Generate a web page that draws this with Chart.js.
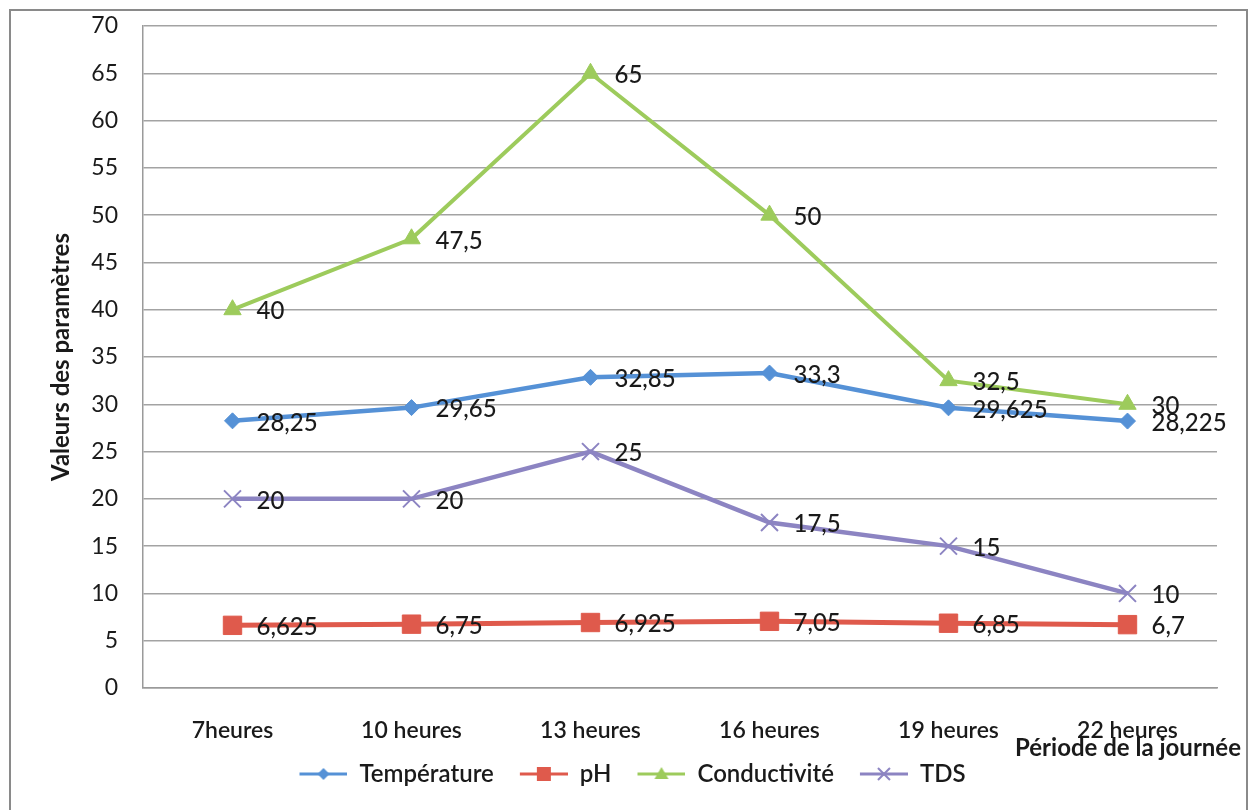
<!DOCTYPE html>
<html lang="fr">
<head>
<meta charset="utf-8">
<title>Valeurs des paramètres selon la période de la journée</title>
<script src="https://cdn.jsdelivr.net/npm/chart.js@4.4.1/dist/chart.umd.min.js"></script>
<style>
  html, body { margin: 0; padding: 0; background: #ffffff; }
  canvas { display: block; }
</style>
</head>
<body>
<canvas id="chart" width="1252" height="810"></canvas>
<script>
// Periods of the day (x categories)
const hours = ['7heures', '10 heures', '13 heures', '16 heures', '19 heures', '22 heures'];

// Measured parameters per period
const temperature = [28.25, 29.65, 32.85, 33.3, 29.625, 28.225];
const ph = [6.625, 6.75, 6.925, 7.05, 6.85, 6.7];
const conductivite = [40, 47.5, 65, 50, 32.5, 30];
const tds = [20, 20, 25, 17.5, 15, 10];

// Value axis range
const yMin = 0;
const yMax = 70;
const yStep = 5;

const FONT = 'Lato, "Open Sans", "DejaVu Sans", sans-serif';
const TEXT = '#1a1a1a';

const COLORS = {
  temperature: '#5591d6',
  ph: '#df5a4c',
  conductivite: '#9dcb5c',
  tds: '#8c84c2'
};

// French decimal comma for value labels
const fmt = v => String(v).replace('.', ',');

// Legend swatch: a short line with the series marker in the middle.
// The left part of the box stays empty to space the legend items apart.
const SWATCH_BOX = 62;
function swatch(color, style) {
  const c = document.createElement('canvas');
  c.width = SWATCH_BOX; c.height = 22;
  const g = c.getContext('2d');
  const x0 = 14, x1 = c.width;
  const cx = (x0 + x1) / 2, cy = 11;
  g.strokeStyle = color;
  g.lineWidth = 3;
  g.beginPath(); g.moveTo(x0, cy); g.lineTo(x1, cy); g.stroke();
  g.fillStyle = color;
  g.beginPath();
  if (style === 'diamond') {
    g.moveTo(cx, cy - 6); g.lineTo(cx + 6, cy); g.lineTo(cx, cy + 6); g.lineTo(cx - 6, cy); g.closePath(); g.fill();
  } else if (style === 'square') {
    g.rect(cx - 7, cy - 7, 14, 14); g.fill();
  } else if (style === 'triangle') {
    g.moveTo(cx, cy - 7); g.lineTo(cx + 7, cy + 5); g.lineTo(cx - 7, cy + 5); g.closePath(); g.fill();
  } else {
    g.lineWidth = 2;
    g.moveTo(cx - 6, cy - 6); g.lineTo(cx + 6, cy + 6);
    g.moveTo(cx + 6, cy - 6); g.lineTo(cx - 6, cy + 6);
    g.stroke();
  }
  return c;
}

const legendSwatches = [
  swatch(COLORS.temperature, 'diamond'),
  swatch(COLORS.ph, 'square'),
  swatch(COLORS.conductivite, 'triangle'),
  swatch(COLORS.tds, 'cross')
];

// White page with a thin grey frame
const framePlugin = {
  id: 'frame',
  beforeDraw(chart) {
    const ctx = chart.ctx;
    ctx.save();
    ctx.fillStyle = '#ffffff';
    ctx.fillRect(0, 0, chart.width, chart.height);
    ctx.strokeStyle = '#8a8a8a';
    ctx.lineWidth = 2;
    ctx.beginPath();
    ctx.moveTo(10, chart.height + 2);
    ctx.lineTo(10, 10);
    ctx.lineTo(1247, 10);
    ctx.lineTo(1247, chart.height + 2);
    ctx.stroke();
    ctx.restore();
  }
};

// Nudge the legend row a little to the right of the canvas centre
const legendShift = {
  id: 'legendShift',
  afterLayout(chart) {
    if (chart.legend) {
      chart.legend.left += 17;
      chart.legend.right += 17;
    }
  }
};

// Value labels to the right of each point
const valueLabels = {
  id: 'valueLabels',
  afterDatasetsDraw(chart) {
    const ctx = chart.ctx;
    ctx.save();
    ctx.font = '500 24px ' + FONT;
    ctx.fillStyle = TEXT;
    ctx.textAlign = 'left';
    ctx.textBaseline = 'middle';
    chart.data.datasets.forEach((ds, i) => {
      const meta = chart.getDatasetMeta(i);
      meta.data.forEach((pt, j) => {
        ctx.fillText(fmt(ds.data[j]), pt.x + 24, pt.y + 2);
      });
    });
    ctx.restore();
  }
};

// Category axis title, placed at the lower right
const xAxisTitle = {
  id: 'xAxisTitle',
  afterDraw(chart) {
    const ctx = chart.ctx;
    ctx.save();
    ctx.font = 'bold 24px ' + FONT;
    ctx.fillStyle = TEXT;
    ctx.textAlign = 'right';
    ctx.textBaseline = 'middle';
    ctx.fillText('Période de la journée', 1241, 748);
    ctx.restore();
  }
};

const lineDataset = (label, data, color, pointStyle, radius, width, borderW) => ({
  label,
  data,
  borderColor: color,
  backgroundColor: color,
  borderWidth: width,
  pointStyle,
  pointRadius: radius,
  pointHoverRadius: radius,
  pointBackgroundColor: color,
  pointBorderColor: color,
  pointBorderWidth: borderW,
  tension: 0
});

new Chart(document.getElementById('chart'), {
  type: 'line',
  data: {
    labels: hours,
    datasets: [
      lineDataset('Température', temperature, COLORS.temperature, 'rectRot', 8, 4.5, 1),
      lineDataset('pH', ph, COLORS.ph, 'rect', 13, 5, 1),
      lineDataset('Conductivité', conductivite, COLORS.conductivite, 'triangle', 10, 4, 1),
      lineDataset('TDS', tds, COLORS.tds, 'crossRot', 12, 4.5, 2)
    ]
  },
  options: {
    responsive: false,
    devicePixelRatio: 1,
    animation: false,
    layout: { padding: { left: 0, right: 35, top: 26, bottom: 14 } },
    plugins: {
      tooltip: { enabled: false },
      legend: {
        position: 'bottom',
        labels: {
          usePointStyle: true,
          pointStyleWidth: SWATCH_BOX,
          padding: 12,
          color: TEXT,
          font: { family: FONT, size: 24, weight: '600' },
          generateLabels(chart) {
            return chart.data.datasets.map((ds, i) => ({
              text: ds.label,
              pointStyle: legendSwatches[i],
              fillStyle: ds.borderColor,
              strokeStyle: ds.borderColor,
              lineWidth: 0,
              hidden: false,
              datasetIndex: i,
              fontColor: TEXT
            }));
          }
        }
      }
    },
    scales: {
      x: {
        type: 'category',
        offset: true,
        grid: { display: false, drawTicks: false },
        border: { display: true, color: '#9a9a9a', width: 1.5 },
        ticks: {
          color: TEXT,
          padding: 29,
          maxRotation: 0,
          autoSkip: false,
          font: { family: FONT, size: 23, weight: '600' }
        },
        afterFit(scale) { scale.height = 62; }
      },
      y: {
        min: yMin,
        max: yMax,
        grid: { color: '#a3a3a3', lineWidth: 1.5, drawTicks: false },
        border: { display: true, color: '#9a9a9a', width: 1.5 },
        ticks: {
          stepSize: yStep,
          padding: 25,
          color: TEXT,
          font: { family: FONT, size: 23 }
        },
        title: {
          display: true,
          text: 'Valeurs des paramètres',
          color: TEXT,
          font: { family: FONT, size: 24, weight: 'bold' },
          padding: { top: 47, bottom: 0 }
        },
        afterFit(scale) {
          scale.width = 143;
          scale.paddingTop = 0;
          scale.paddingBottom = 0;
        }
      }
    }
  },
  plugins: [framePlugin, legendShift, valueLabels, xAxisTitle]
});
</script>
</body>
</html>
